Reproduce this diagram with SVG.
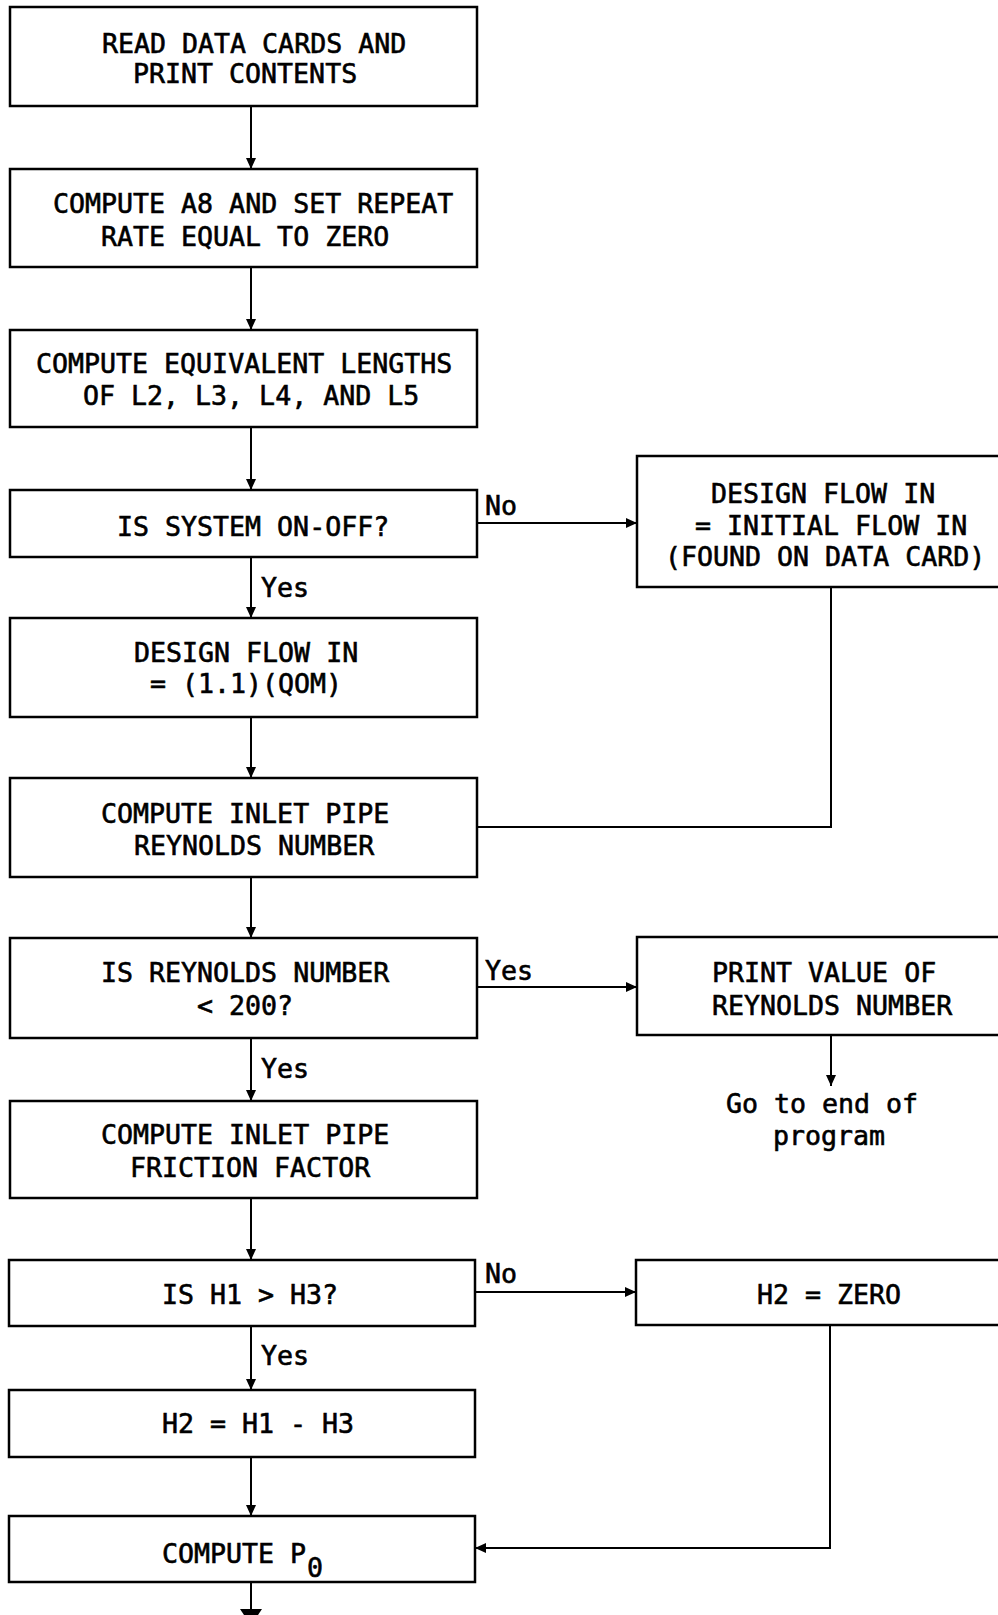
<svg xmlns="http://www.w3.org/2000/svg" width="998" height="1615" viewBox="0 0 998 1615">
<defs>
<style>
.box{fill:#fff;stroke:#000;stroke-width:2.5}
.t{font-family:"DejaVu Sans Mono","Liberation Mono",monospace;font-size:26.6px;fill:#000;stroke:#000;stroke-width:0.6}
.c{fill:none;stroke:#000;stroke-width:2}
</style>
<marker id="ah" markerUnits="userSpaceOnUse" markerWidth="12" markerHeight="10" refX="11" refY="5" orient="auto">
<path d="M0,0 L11,5 L0,10 z" fill="#000"/>
</marker>
</defs>
<rect width="998" height="1615" fill="#fff"/>
<g id="connectors">
<line class="c" x1="251" y1="106" x2="251" y2="169" marker-end="url(#ah)"/>
<line class="c" x1="251" y1="267" x2="251" y2="330" marker-end="url(#ah)"/>
<line class="c" x1="251" y1="427" x2="251" y2="490" marker-end="url(#ah)"/>
<line class="c" x1="251" y1="557" x2="251" y2="618" marker-end="url(#ah)"/>
<line class="c" x1="251" y1="717" x2="251" y2="778" marker-end="url(#ah)"/>
<line class="c" x1="251" y1="877" x2="251" y2="938" marker-end="url(#ah)"/>
<line class="c" x1="251" y1="1038" x2="251" y2="1101" marker-end="url(#ah)"/>
<line class="c" x1="251" y1="1198" x2="251" y2="1260" marker-end="url(#ah)"/>
<line class="c" x1="251" y1="1326" x2="251" y2="1390" marker-end="url(#ah)"/>
<line class="c" x1="251" y1="1457" x2="251" y2="1516" marker-end="url(#ah)"/>
<line class="c" x1="251" y1="1582" x2="251" y2="1615"/>
<path d="M240,1609 L262,1609 L258,1615 L244,1615 z" fill="#000"/>
<line class="c" x1="477" y1="523" x2="637" y2="523" marker-end="url(#ah)"/>
<path class="c" d="M831,587 V827 H477"/>
<line class="c" x1="477" y1="987" x2="637" y2="987" marker-end="url(#ah)"/>
<line class="c" x1="831" y1="1035" x2="831" y2="1086" marker-end="url(#ah)"/>
<line class="c" x1="475" y1="1292" x2="636" y2="1292" marker-end="url(#ah)"/>
<path class="c" d="M830,1325 V1548 H475" marker-end="url(#ah)"/>
<text class="t" x="485" y="515">No</text>
<text class="t" x="261" y="597">Yes</text>
<text class="t" x="485" y="980">Yes</text>
<text class="t" x="261" y="1078">Yes</text>
<text class="t" x="485" y="1283">No</text>
<text class="t" x="261" y="1365">Yes</text>
</g>
<g id="n1"><rect class="box" x="10" y="7" width="467" height="99"/>
<text class="t" x="102" y="53">READ DATA CARDS AND</text><text class="t" x="133" y="83">PRINT CONTENTS</text></g>
<g id="n2"><rect class="box" x="10" y="169" width="467" height="98"/>
<text class="t" x="53" y="213">COMPUTE A8 AND SET REPEAT</text><text class="t" x="101" y="246">RATE EQUAL TO ZERO</text></g>
<g id="n3"><rect class="box" x="10" y="330" width="467" height="97"/>
<text class="t" x="36" y="373">COMPUTE EQUIVALENT LENGTHS</text><text class="t" x="83" y="405">OF L2, L3, L4, AND L5</text></g>
<g id="n4"><rect class="box" x="10" y="490" width="467" height="67"/>
<text class="t" x="117" y="536">IS SYSTEM ON-OFF?</text></g>
<g id="r1"><rect class="box" x="637" y="456" width="370" height="131"/>
<text class="t" x="711" y="503">DESIGN FLOW IN</text><text class="t" x="695" y="535">= INITIAL FLOW IN</text><text class="t" x="665" y="566">(FOUND ON DATA CARD)</text></g>
<g id="n5"><rect class="box" x="10" y="618" width="467" height="99"/>
<text class="t" x="134" y="662">DESIGN FLOW IN</text><text class="t" x="150" y="693">= (1.1)(QOM)</text></g>
<g id="n6"><rect class="box" x="10" y="778" width="467" height="99"/>
<text class="t" x="101" y="823">COMPUTE INLET PIPE</text><text class="t" x="134" y="855">REYNOLDS NUMBER</text></g>
<g id="n7"><rect class="box" x="10" y="938" width="467" height="100"/>
<text class="t" x="101" y="982">IS REYNOLDS NUMBER</text><text class="t" x="197" y="1015">&lt; 200?</text></g>
<g id="r2"><rect class="box" x="637" y="937" width="370" height="98"/>
<text class="t" x="712" y="982">PRINT VALUE OF</text><text class="t" x="712" y="1015">REYNOLDS NUMBER</text></g>
<g id="end"><text class="t" x="726" y="1113">Go to end of</text><text class="t" x="773" y="1145">program</text></g>
<g id="n8"><rect class="box" x="10" y="1101" width="467" height="97"/>
<text class="t" x="101" y="1144">COMPUTE INLET PIPE</text><text class="t" x="130" y="1177">FRICTION FACTOR</text></g>
<g id="n9"><rect class="box" x="9" y="1260" width="466" height="66"/>
<text class="t" x="162" y="1304">IS H1 &gt; H3?</text></g>
<g id="r3"><rect class="box" x="636" y="1260" width="371" height="65"/>
<text class="t" x="757" y="1304">H2 = ZERO</text></g>
<g id="n10"><rect class="box" x="9" y="1390" width="466" height="67"/>
<text class="t" x="162" y="1433">H2 = H1 - H3</text></g>
<g id="n11"><rect class="box" x="9" y="1516" width="466" height="66"/>
<text class="t" x="162" y="1563">COMPUTE P</text><text class="t" x="307" y="1577">0</text></g>
</svg>
